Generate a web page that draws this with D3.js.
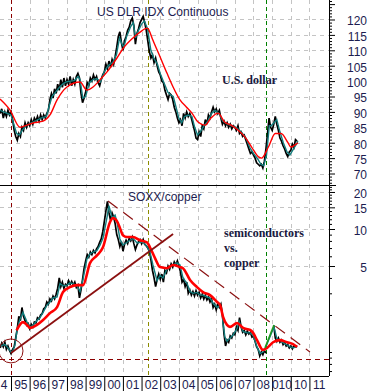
<!DOCTYPE html>
<html>
<head>
<meta charset="utf-8">
<script src="https://cdn.jsdelivr.net/npm/d3@7"></script>
<style>
  body { margin: 0; background: #fff; }
  svg { display: block; }
</style>
</head>
<body>
<div class="chart"></div>
<script>
// monthly closes from Jun 1994 (US dollar index)
const usdDaily = [
  89.5, 91, 88, 90, 88.5, 90.5, 89,
  90, 87.5, 84, 82, 80.8, 83, 82, 85, 84, 86.5, 85, 86.5,
  85.5, 87.5, 86, 88, 87, 88.5, 87, 89, 87.5, 89, 88, 89.5,
  90.5, 94, 96, 94.5, 97.5, 96, 99, 97, 100.5, 98, 101, 98.5,
  100.5, 99, 101.5, 98.5, 100.5, 99, 101.5, 102.5, 101, 96, 93, 94.5,
  96.5, 99.5, 98.5, 101, 100, 102, 100.5, 101.5, 99.5, 98.5, 100.5, 102,
  103, 105.5, 104, 106.5, 104.5, 107, 105.5, 108, 111, 114.5, 116, 112.5,
  110, 113, 114.5, 116.5, 117.5, 119.5, 120.5, 118, 112, 115.5, 117, 119,
  120, 121, 119, 116.5, 113, 109.5, 107.5, 108.5, 106, 107.5, 105, 103,
  102, 100, 99.5, 97, 95.5, 94, 96, 95.5, 94, 91.5, 90, 88,
  86.5, 87.5, 85.5, 89.5, 88, 90, 88.5, 89.5, 88, 86, 84, 81.5,
  81, 83.5, 82, 85.5, 84.5, 87.5, 86, 89, 88, 90, 91.5, 90,
  91, 89.5, 90.5, 88, 86, 87, 85.5, 86.5, 85, 86, 84.5, 85.5,
  85, 84, 85.5, 83, 83.5, 82, 82.5, 81, 79.5, 78, 76.5, 77,
  76, 75, 73.5, 73, 72.5, 73, 71.8, 74, 78, 83, 88, 85,
  84, 86, 88.5, 86, 84, 81.5, 80.5, 79, 78, 76.5, 75.5, 77,
  77.5, 79.5, 78.5, 81, 80.5
];

const usdFast = [
  [1994.42, 90.5], [1994.6, 90], [1994.8, 89.5], [1995.0, 89], [1995.15, 86], [1995.3, 83], [1995.45, 82.5], [1995.6, 84], [1995.8, 85.5],
  [1996.0, 86.2], [1996.3, 87], [1996.6, 88], [1996.9, 88.5], [1997.05, 92], [1997.2, 95], [1997.4, 96.5], [1997.6, 98], [1997.8, 99.2],
  [1998.0, 99.8], [1998.2, 100], [1998.4, 100.2], [1998.6, 101.5], [1998.7, 100.5], [1998.85, 94.5], [1999.0, 95], [1999.2, 99.5], [1999.4, 100.5], [1999.6, 100.8], [1999.8, 99.8],
  [2000.0, 103], [2000.2, 105], [2000.45, 106], [2000.65, 108.5], [2000.82, 114], [2000.95, 112], [2001.05, 111], [2001.2, 114.5], [2001.4, 117.5], [2001.55, 119], [2001.68, 114], [2001.8, 116],
  [2002.0, 118.5], [2002.15, 119.5], [2002.32, 117], [2002.5, 110], [2002.65, 107.5], [2002.85, 105.5], [2003.0, 102.5], [2003.2, 99.5], [2003.4, 96.5], [2003.55, 95.5], [2003.7, 95], [2003.85, 91.5],
  [2004.0, 88], [2004.15, 86.5], [2004.3, 88.5], [2004.5, 89], [2004.7, 88.5], [2004.85, 85], [2005.0, 82.5], [2005.15, 83.5], [2005.35, 85.5], [2005.55, 87], [2005.75, 89.5], [2005.95, 90.5],
  [2006.15, 89.5], [2006.35, 87], [2006.6, 86], [2006.85, 85.5], [2007.1, 84.8], [2007.35, 83.5], [2007.6, 81.5], [2007.8, 78.5], [2008.0, 76.5], [2008.2, 75], [2008.4, 73], [2008.55, 72.5],
  [2008.7, 76], [2008.85, 85.5], [2008.95, 85.5], [2009.1, 86.5], [2009.25, 87.5], [2009.4, 84], [2009.6, 80], [2009.8, 77], [2009.95, 76], [2010.1, 77.5], [2010.3, 79.5], [2010.38, 80.5]
];

const usdSlow = [
  [1994.41, 94.2], [1994.95, 90.6], [1995.48, 85], [1995.86, 85.7], [1996.18, 86.4], [1996.72, 87], [1997.09, 89], [1997.47, 93.9], [1998.0, 98.1], [1998.7, 99.7],
  [1999.07, 97.1], [1999.4, 98.1], [1999.77, 100.4], [2000.15, 103], [2000.68, 107.5], [2001.0, 110.5], [2001.54, 114], [2001.9, 115.8], [2002.3, 117.2], [2002.4, 116.5],
  [2002.6, 113.4], [2002.99, 107.9], [2003.36, 102.6], [2003.69, 98.1], [2004.06, 93.9], [2004.4, 91.6], [2004.7, 89.6], [2005.03, 86.7], [2005.4, 85.7], [2005.72, 88],
  [2006.1, 89.6], [2006.45, 86.7], [2006.8, 85.7], [2007.17, 84.1], [2007.55, 81.8], [2007.9, 78.6], [2008.27, 75.4], [2008.43, 75], [2008.8, 78.6], [2009.17, 83],
  [2009.48, 83], [2009.85, 80], [2010.0, 78.6], [2010.28, 79.5], [2010.38, 80]
];

// monthly closes from Jun 1994 (SOXX / copper), gap late 2008
const ratioDaily = [
  1.08, 1.18, 1.1, 1.2, 1.05, 1.12, 1.03,
  0.97, 1.05, 1.1, 1.3, 1.55, 1.95, 1.8, 2.3, 1.95, 1.8, 1.65, 1.7,
  1.55, 1.68, 1.6, 1.75, 1.72, 1.9, 1.85, 2.0, 2.05, 2.25, 2.3, 2.55,
  2.45, 2.7, 2.6, 2.85, 2.7, 2.95, 3.3, 4.0, 3.4, 3.7, 3.3, 3.55,
  3.45, 3.8, 3.55, 3.75, 3.5, 3.7, 3.35, 3.5, 2.75, 3.2, 3.9, 4.8,
  5.5, 6.2, 5.9, 6.5, 6.2, 6.7, 6.4, 6.9, 7.2, 7.8, 8.3, 9.5,
  11.5, 14, 16.8, 13.5, 11.8, 13.5, 12.5, 11, 9, 8.2, 7.2, 7.9,
  6.6, 7.5, 8.1, 7.6, 8.4, 8.0, 8.6, 7.6, 6.8, 7.4, 7.9, 8.2,
  7.6, 8.2, 7.5, 7.3, 7.0, 6.6, 5.6, 4.6, 4.0, 3.4, 3.9, 4.3,
  3.9, 4.3, 3.7, 4.6, 4.4, 5.0, 4.7, 5.2, 4.9, 5.4, 5.1, 5.5,
  5.0, 4.5, 3.7, 3.9, 3.4, 3.7, 3.0, 3.2, 2.9, 3.1, 2.85, 3.15,
  2.9, 3.05, 2.75, 2.95, 2.7, 2.9, 2.65, 2.8, 2.55, 2.7, 2.3, 2.45,
  2.2, 2.45, 2.3, 2.45, 2.0, 1.4, 1.12, 1.25, 1.2, 1.35, 1.3, 1.42,
  1.38, 1.6, 1.5, 1.9, 1.6, 1.45, 1.5, 1.38, 1.48, 1.4, 1.45, 1.32,
  1.35, 1.22, 1.1, 1.05, 0.93, 1.0, 0.95, 1.03, 0.98, null, null, null,
  null, 1.65, 1.3, 1.22, 1.3, 1.2, 1.25, 1.15, 1.2, 1.12, 1.15, 1.08,
  1.12, 1.06, 1.13, 1.1, 1.12
];

const ratioFast = [
  [1994.41, 1.12], [1994.68, 1.15], [1994.84, 1.08], [1995.0, 1.0], [1995.1, 1.02], [1995.21, 1.14], [1995.32, 1.5], [1995.48, 1.85], [1995.64, 2.1], [1995.86, 1.75],
  [1996.02, 1.6], [1996.18, 1.65], [1996.39, 1.8], [1996.55, 1.9], [1996.72, 2.1], [1996.93, 2.4], [1997.09, 2.55], [1997.25, 2.75], [1997.47, 2.8], [1997.63, 3.6], [1997.79, 3.45],
  [1998.0, 3.5], [1998.16, 3.65], [1998.32, 3.6], [1998.54, 3.45], [1998.7, 3.1], [1998.86, 3.9], [1999.07, 5.7], [1999.24, 6.3], [1999.4, 6.5], [1999.61, 6.7], [1999.77, 7.4], [1999.93, 8.4],
  [2000.15, 12.5], [2000.25, 15.5], [2000.42, 12.3], [2000.58, 13], [2000.68, 11.5], [2000.84, 8.3], [2001.0, 7.4], [2001.22, 7.8], [2001.38, 8.1], [2001.54, 8.4], [2001.76, 7.7], [2001.92, 7.8],
  [2002.08, 7.8], [2002.29, 7.2], [2002.45, 6.5], [2002.61, 5.1], [2002.83, 3.8], [2002.99, 4.2], [2003.15, 4.0], [2003.36, 4.7], [2003.53, 4.9], [2003.69, 5.1], [2003.9, 5.3],
  [2004.06, 5.1], [2004.22, 4.0], [2004.44, 3.6], [2004.6, 3.1], [2004.76, 3.0], [2004.97, 3.05], [2005.13, 2.9], [2005.29, 2.9], [2005.51, 2.8], [2005.67, 2.75], [2005.83, 2.5],
  [2006.05, 2.3], [2006.21, 2.4], [2006.32, 2.1], [2006.37, 1.7], [2006.47, 1.32], [2006.58, 1.22], [2006.74, 1.3], [2006.9, 1.37], [2007.12, 1.55], [2007.23, 1.78], [2007.44, 1.47],
  [2007.65, 1.43], [2007.82, 1.43], [2007.98, 1.37], [2008.19, 1.1], [2008.35, 0.97], [2008.51, 1.0], [2008.62, 1.06], [2009.1, 1.6], [2009.26, 1.28], [2009.42, 1.25],
  [2009.58, 1.19], [2009.8, 1.14], [2009.96, 1.1], [2010.12, 1.08], [2010.34, 1.1]
];

const ratioSlow = [
  [1995.3, 1.5], [1995.64, 1.75], [1995.86, 1.66], [1996.02, 1.57], [1996.39, 1.66], [1996.72, 1.82], [1997.09, 2.07], [1997.47, 2.32], [1997.79, 3.07], [1998.16, 3.37], [1998.54, 3.5], [1998.86, 3.5],
  [1999.24, 5.3], [1999.61, 6.1], [1999.93, 7.1], [2000.31, 11.4], [2000.47, 12.3], [2000.68, 11.6], [2000.84, 10.2], [2001.0, 8.9], [2001.22, 8.6], [2001.54, 8.6], [2001.92, 8.1],
  [2002.29, 7.8], [2002.45, 7.1], [2002.72, 5.8], [2002.99, 4.9], [2003.36, 4.8], [2003.69, 5.1], [2004.06, 4.9], [2004.22, 4.8], [2004.6, 3.85], [2004.97, 3.37], [2005.29, 3.07], [2005.67, 2.9],
  [2006.05, 2.55], [2006.21, 2.41], [2006.37, 1.93], [2006.58, 1.66], [2006.74, 1.6], [2007.12, 1.72], [2007.44, 1.57], [2007.82, 1.51], [2007.98, 1.43], [2008.19, 1.25], [2008.51, 1.04], [2008.73, 1.08],
  [2009.05, 1.2], [2009.42, 1.25], [2009.8, 1.2], [2010.12, 1.16], [2010.34, 1.1]
];

const gapLine = [[2008.62, 1.08], [2009.1, 1.66]];
const trendUp = [[1995.0, 0.98], [2003.69, 9.1]];
const trendDown = [[2000.2, 16.9], [2011.03, 1.0]];
const supportLevel = 0.877;
const lowMarker = [1995.0, 1.02];
const eventYears = [1995.0, 2002.35, 2008.66];

const usdTicks = [70, 75, 80, 85, 90, 95, 100, 105, 110, 115, 120];
const ratioTicks = [5, 10, 15, 20];
const yearLabels = ['4', '95', '96', '97', '98', '99', '00', '01', '02', '03', '04', '05', '06', '07', '08', '010', '10', '11'];

const w = 371;
const h = 391;
const plotRight = 329;
const split = 185;
const bottom = 376;
const labelFont = '"Liberation Sans", Arial, sans-serif';
const textColor = '#1c1c50';

const x = d3.scaleLinear()
  .domain([1994.41, 2012.05])
  .range([0, plotRight]);
const yTop = d3.scaleLinear()
  .domain([66.27, 126.33])
  .range([split, 0]);
const yBot = d3.scaleLog()
  .domain([0.638, 22.79])
  .range([bottom, split]);

const months = usdDaily.map((d, i) => 1994.42 + i / 12);
const years = d3.range(1994, 2012);

const svg = d3.select('.chart')
  .append('svg')
  .attr('width', w)
  .attr('height', h);

const defs = svg.append('defs');
defs.append('clipPath').attr('id', 'clip-top')
  .append('rect').attr('x', 0).attr('y', 0).attr('width', plotRight).attr('height', split);
defs.append('clipPath').attr('id', 'clip-bot')
  .append('rect').attr('x', 0).attr('y', split).attr('width', plotRight).attr('height', bottom - split);

// grid
const grid = svg.append('g')
  .attr('stroke', '#c4c4c4')
  .attr('stroke-dasharray', '4,4')
  .attr('stroke-width', 1);

grid.selectAll('.vgrid')
  .data(years.slice(2))
  .enter()
  .append('line')
  .attr('x1', (d) => Math.round(x(d)) + 0.5)
  .attr('x2', (d) => Math.round(x(d)) + 0.5)
  .attr('y1', 0)
  .attr('y2', bottom);

grid.selectAll('.hgrid-top')
  .data(usdTicks)
  .enter()
  .append('line')
  .attr('x1', 0)
  .attr('x2', plotRight)
  .attr('y1', (d) => Math.round(yTop(d)) + 0.5)
  .attr('y2', (d) => Math.round(yTop(d)) + 0.5);

grid.selectAll('.hgrid-bot')
  .data(ratioTicks)
  .enter()
  .append('line')
  .attr('x1', 0)
  .attr('x2', plotRight)
  .attr('y1', (d) => Math.round(yBot(d)) + 0.5)
  .attr('y2', (d) => Math.round(yBot(d)) + 0.5);

// event markers
const eventColors = ['#8b0000', '#8c8c00', '#008000'];
svg.selectAll('.event')
  .data(eventYears)
  .enter()
  .append('line')
  .attr('x1', (d) => Math.round(x(d)) + 0.5)
  .attr('x2', (d) => Math.round(x(d)) + 0.5)
  .attr('y1', 0)
  .attr('y2', bottom)
  .attr('stroke', (d, i) => eventColors[i])
  .attr('stroke-dasharray', '4,3')
  .attr('stroke-width', 1);

// US dollar panel
const topG = svg.append('g').attr('clip-path', 'url(#clip-top)');
const topLine = d3.line()
  .x((d) => x(d[0]))
  .y((d) => yTop(d[1]));

topG.append('path')
  .datum(usdDaily.map((d, i) => [months[i], d]))
  .attr('d', topLine)
  .attr('fill', 'none')
  .attr('stroke', '#000')
  .attr('stroke-width', 1.7);

topG.append('path')
  .datum(usdFast)
  .attr('d', topLine)
  .attr('fill', 'none')
  .attr('stroke', '#127c7c')
  .attr('stroke-width', 1.4);

topG.append('path')
  .datum(usdSlow)
  .attr('d', topLine.curve(d3.curveMonotoneX))
  .attr('fill', 'none')
  .attr('stroke', '#ff0000')
  .attr('stroke-width', 1.4);

// SOXX / copper panel
const botG = svg.append('g').attr('clip-path', 'url(#clip-bot)');
const botLine = d3.line()
  .defined((d) => d[1] != null)
  .x((d) => x(d[0]))
  .y((d) => yBot(d[1]));

botG.append('line')
  .attr('x1', 0)
  .attr('x2', plotRight)
  .attr('y1', Math.round(yBot(supportLevel)) + 0.5)
  .attr('y2', Math.round(yBot(supportLevel)) + 0.5)
  .attr('stroke', '#8b0000')
  .attr('stroke-dasharray', '5,4')
  .attr('stroke-width', 1.2);

botG.append('path')
  .datum(ratioDaily.map((d, i) => [months[i], d]))
  .attr('d', botLine)
  .attr('fill', 'none')
  .attr('stroke', '#000')
  .attr('stroke-width', 1.7);

botG.append('path')
  .datum(ratioFast)
  .attr('d', botLine)
  .attr('fill', 'none')
  .attr('stroke', '#127c7c')
  .attr('stroke-width', 1.4);

botG.append('path')
  .datum(ratioSlow)
  .attr('d', botLine.curve(d3.curveMonotoneX))
  .attr('fill', 'none')
  .attr('stroke', '#ff0000')
  .attr('stroke-width', 2.6);

botG.append('path')
  .datum(gapLine)
  .attr('d', d3.line().x((d) => x(d[0])).y((d) => yBot(d[1])))
  .attr('stroke', '#1f9a1f')
  .attr('stroke-width', 1.6);

botG.append('path')
  .datum(trendUp)
  .attr('d', d3.line().x((d) => x(d[0])).y((d) => yBot(d[1])))
  .attr('stroke', '#8b1010')
  .attr('stroke-width', 1.8);

botG.append('path')
  .datum(trendDown)
  .attr('d', d3.line().x((d) => x(d[0])).y((d) => yBot(d[1])))
  .attr('stroke', '#8b1010')
  .attr('stroke-dasharray', '12,7')
  .attr('stroke-width', 1.2);

botG.append('circle')
  .attr('cx', x(lowMarker[0]))
  .attr('cy', yBot(lowMarker[1]))
  .attr('r', 12)
  .attr('fill', 'none')
  .attr('stroke', '#8b1010')
  .attr('stroke-width', 1);

// frame lines
svg.append('line')
  .attr('x1', 0).attr('x2', 336)
  .attr('y1', split + 0.5).attr('y2', split + 0.5)
  .attr('stroke', '#000');
svg.append('line')
  .attr('x1', 0).attr('x2', plotRight)
  .attr('y1', bottom + 0.5).attr('y2', bottom + 0.5)
  .attr('stroke', '#000');
svg.append('line')
  .attr('x1', plotRight + 0.5).attr('x2', plotRight + 0.5)
  .attr('y1', 0).attr('y2', bottom)
  .attr('stroke', '#000');

// right axes
function styleAxis(g) {
  g.select('.domain').remove();
  g.selectAll('line').attr('stroke', '#000');
  g.selectAll('text')
    .attr('x', 38)
    .attr('dy', '0.45em')
    .attr('text-anchor', 'end')
    .attr('fill', textColor);
  g.attr('font-family', labelFont).attr('font-size', 12);
}

svg.append('g')
  .attr('transform', `translate(${plotRight},0)`)
  .call(d3.axisRight(yTop)
    .tickValues(d3.range(67, 127).filter((d) => d % 5 !== 0))
    .tickSize(3)
    .tickSizeOuter(0)
    .tickFormat(''))
  .call(styleAxis);

svg.append('g')
  .attr('transform', `translate(${plotRight},0)`)
  .call(d3.axisRight(yTop)
    .tickValues(usdTicks.concat([125]))
    .tickSize(6)
    .tickSizeOuter(0)
    .tickFormat((d) => (usdTicks.includes(d) ? d : '')))
  .call(styleAxis);

svg.append('g')
  .attr('transform', `translate(${plotRight},0)`)
  .call(d3.axisRight(yBot)
    .tickValues([0.7, 0.8, 0.9, 1, 2, 3, 4, 6, 7, 8, 9, 11, 12, 13, 14, 16, 17, 18, 19, 21, 22])
    .tickSize(3)
    .tickSizeOuter(0)
    .tickFormat(''))
  .call(styleAxis);

svg.append('g')
  .attr('transform', `translate(${plotRight},0)`)
  .call(d3.axisRight(yBot)
    .tickValues(ratioTicks)
    .tickSize(6)
    .tickSizeOuter(0)
    .tickFormat((d) => d))
  .call(styleAxis);

// year axis
const xAxisG = svg.append('g')
  .attr('transform', `translate(0,${bottom})`);

xAxisG.append('g')
  .call(d3.axisBottom(x)
    .tickValues(years.slice(1))
    .tickSize(15)
    .tickSizeOuter(0)
    .tickFormat(''))
  .call((g) => g.select('.domain').remove())
  .call((g) => g.selectAll('line').attr('stroke', '#000'));

xAxisG.append('g')
  .call(d3.axisBottom(x)
    .tickValues(years.map((d) => d + 0.5))
    .tickSize(0)
    .tickPadding(4)
    .tickFormat((d, i) => yearLabels[i]))
  .call((g) => g.select('.domain').remove())
  .attr('font-family', labelFont)
  .attr('font-size', 12)
  .selectAll('text')
  .attr('fill', textColor)
  .filter((d, i) => i === 0)
  .attr('text-anchor', 'start')
  .attr('dx', -1.5);

// titles and notes
svg.append('text')
  .attr('x', 97).attr('y', 15.5)
  .attr('font-family', labelFont).attr('font-size', 12)
  .attr('fill', textColor)
  .text('US DLR IDX Continuous');

svg.append('text')
  .attr('x', 128).attr('y', 200.5)
  .attr('font-family', labelFont).attr('font-size', 12)
  .attr('fill', textColor)
  .text('SOXX/copper');

const noteFont = '"Liberation Serif", "Times New Roman", serif';
svg.append('text')
  .attr('x', 222).attr('y', 83.5)
  .attr('font-family', noteFont).attr('font-size', 12)
  .attr('font-weight', 'bold')
  .attr('fill', '#1a1a40')
  .text('U.S. dollar');

svg.append('g')
  .selectAll('text')
  .data(['semiconductors', 'vs.', 'copper'])
  .enter()
  .append('text')
  .attr('x', 224)
  .attr('y', (d, i) => 237 + i * 15)
  .attr('font-family', noteFont).attr('font-size', 12)
  .attr('font-weight', 'bold')
  .attr('fill', '#1a1a40')
  .text((d) => d);
</script>
</body>
</html>
